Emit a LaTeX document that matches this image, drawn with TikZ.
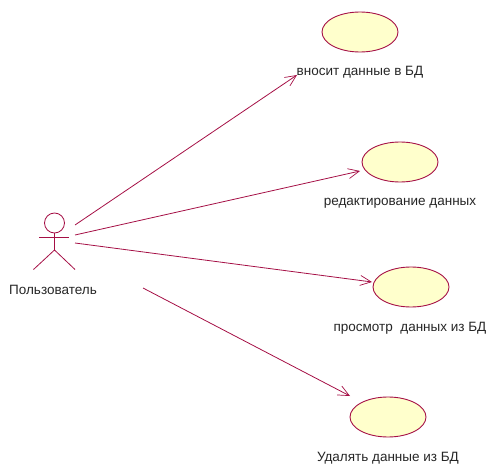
\documentclass[tikz,border=0pt]{standalone}
\usepackage{fontspec}
\setmainfont{Liberation Sans}
\usetikzlibrary{arrows.meta,shapes.geometric}
\definecolor{umlline}{HTML}{A50F45}
\definecolor{umlfill}{HTML}{FFFFCC}
\tikzset{
  usecase/.style={draw=umlline,fill=umlfill,ellipse,line width=0.9pt,minimum width=76pt,minimum height=40pt,inner sep=0pt},
  actorline/.style={draw=umlline,line width=0.8pt},
  assoc/.style={draw=umlline,line width=0.8pt,-{Straight Barb[length=11pt,width=10pt,line width=0.7pt]}},
  lbl/.style={font=\fontsize{13.5}{16}\selectfont,text=black!85,inner sep=0pt,anchor=center}
}
\begin{document}
\begin{tikzpicture}[x=1pt,y=-1pt]
\useasboundingbox (0,0) rectangle (487,465);
\node[usecase] (uc1) at (360,32) {};
\node[usecase] (uc2) at (400,162) {};
\node[usecase] (uc3) at (411,287) {};
\node[usecase] (uc4) at (388,417) {};
\node[lbl] (t1) at (360,72) {вносит данные в БД};
\node[lbl] (t2) at (400,203) {редактирование данных};
\node[lbl] (t3) at (410,328) {просмотр\ \ данных из БД};
\node[lbl] (t4) at (388,458) {Удалять данные из БД};
\node[lbl] (actorlabel) at (53,290) {Пользователь};
% actor
\node[circle,draw=umlline,line width=0.8pt,minimum size=20pt,inner sep=0pt] (head) at (54.5,223) {};
\coordinate (armL) at (39,237);
\coordinate (armR) at (69,237);
\coordinate (hip) at (54.5,250);
\coordinate (footL) at (33.5,269.5);
\coordinate (footR) at (75,269.5);
\draw[actorline] (head.south) -- (hip);
\draw[actorline] (armL) -- (armR);
\draw[actorline] (footL) -- (hip) -- (footR);
% associations
\coordinate (s1) at (75,225);
\coordinate (s2) at (75,235);
\coordinate (s3) at (75,243);
\coordinate (s4) at (143,288);
\coordinate (e1) at (297,75);
\coordinate (e2) at (360,171);
\coordinate (e3) at (372,282);
\coordinate (e4) at (350,396);
\draw[assoc] (s1) -- (e1);
\draw[assoc] (s2) -- (e2);
\draw[assoc] (s3) -- (e3);
\draw[assoc] (s4) -- (e4);
\end{tikzpicture}
\end{document}
